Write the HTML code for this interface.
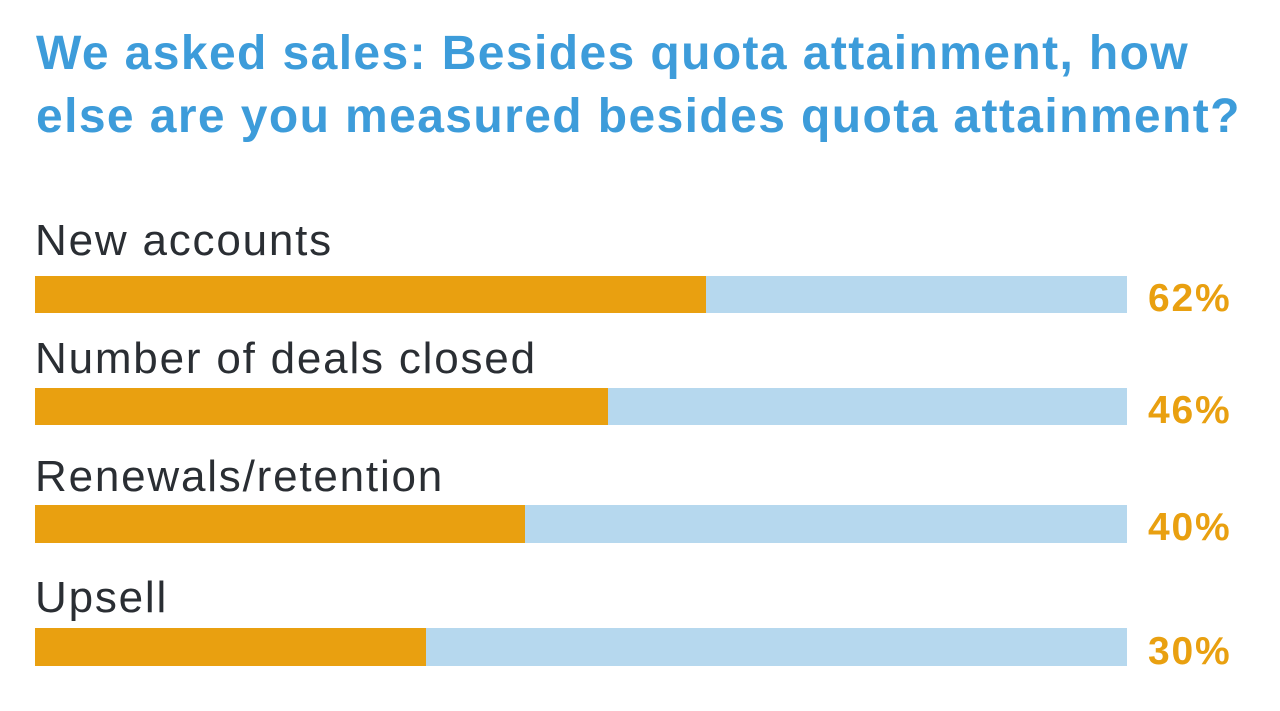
<!DOCTYPE html>
<html><head><meta charset="utf-8"><style>
body{margin:0;width:1280px;height:711px;background:#fff;position:relative;overflow:hidden;font-family:"Liberation Sans",sans-serif}
.t{position:absolute;left:36px;top:22px;font-size:48px;font-weight:bold;color:#3d9cda;line-height:63px;letter-spacing:1.4px;white-space:nowrap}
.l{position:absolute;left:35px;font-size:44px;color:#2a2e33;line-height:1;letter-spacing:1.8px}
.b{position:absolute;left:35px;width:1092px;background:#b6d8ee}
.b div{height:100%;background:#e9a010}
.p{position:absolute;left:1148px;font-size:39px;font-weight:bold;color:#e9a010;line-height:1;letter-spacing:1.8px}
</style></head><body>
<div class="t">We asked sales: Besides quota attainment, how<br>else are you measured besides quota attainment?</div>
<div class="l" style="top:219px">New accounts</div>
<div class="b" style="top:276px;height:37px"><div style="width:671px"></div></div>
<div class="p" style="top:279px">62%</div>
<div class="l" style="top:337px">Number of deals closed</div>
<div class="b" style="top:388px;height:37px"><div style="width:573px"></div></div>
<div class="p" style="top:391px">46%</div>
<div class="l" style="top:455px">Renewals/retention</div>
<div class="b" style="top:505px;height:38px"><div style="width:490px"></div></div>
<div class="p" style="top:508px">40%</div>
<div class="l" style="top:576px">Upsell</div>
<div class="b" style="top:628px;height:38px"><div style="width:391px"></div></div>
<div class="p" style="top:632px">30%</div>
</body></html>
